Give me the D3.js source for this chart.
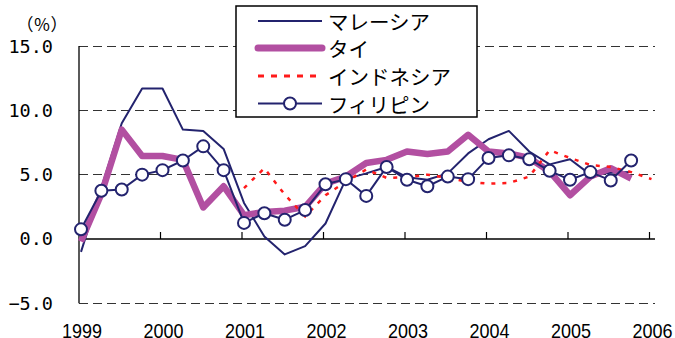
<!DOCTYPE html>
<html>
<head>
<meta charset="utf-8">
<script src="https://cdn.jsdelivr.net/npm/d3@7/dist/d3.min.js"></script>
<style>
  html, body { margin: 0; padding: 0; background: #fff; }
  svg { display: block; }
</style>
</head>
<body>
<svg id="chart" width="675" height="338"></svg>
<script>
// Quarterly categories, 1999 Q1 – 2006 Q1
const quarters = [
  "1999Q1","1999Q2","1999Q3","1999Q4",
  "2000Q1","2000Q2","2000Q3","2000Q4",
  "2001Q1","2001Q2","2001Q3","2001Q4",
  "2002Q1","2002Q2","2002Q3","2002Q4",
  "2003Q1","2003Q2","2003Q3","2003Q4",
  "2004Q1","2004Q2","2004Q3","2004Q4",
  "2005Q1","2005Q2","2005Q3","2005Q4",
  "2006Q1"
];
const yearLabels = ["1999","2000","2001","2002","2003","2004","2005","2006"];
const yTicks = [-5, 0, 5, 10, 15];
const yTickLabels = ["\u22125.0", "0.0", "5.0", "10.0", "15.0"];

// Real GDP growth (%, year on year)
const malaysia = [
  -1.0, 4.0, 9.0, 11.7, 11.7, 8.5, 8.4, 7.0,
  2.8, 0.2, -1.2, -0.55, 1.2, 4.65, 5.1, 5.6,
  4.8, 4.6, 5.1, 6.65, 7.75, 8.4, 6.8, 5.8,
  6.2, 5.0, 5.15, 5.2, null
];
const thailand = [
  -0.2, 3.5, 8.5, 6.45, 6.45, 6.15, 2.45, 4.1,
  1.85, 2.1, 2.2, 2.5, 4.3, 4.85, 5.9, 6.15,
  6.8, 6.6, 6.8, 8.1, 6.8, 6.65, 6.3, 5.25,
  3.4, 4.85, 5.5, 4.7, null
];
const indonesia = [
  null, null, null, null, null, null, null, null,
  3.95, 5.5, 3.45, 1.75, 3.4, 4.45, 5.4, 4.75,
  4.8, 5.0, 4.75, 4.45, 4.3, 4.35, 4.85, 6.9,
  6.3, 5.75, 5.6, 5.2, 4.65
];
const philippines = [
  0.75, 3.75, 3.85, 5.0, 5.35, 6.1, 7.2, 5.35,
  1.25, 2.0, 1.5, 2.25, 4.25, 4.65, 3.35, 5.6,
  4.6, 4.1, 4.85, 4.65, 6.3, 6.5, 6.2, 5.3,
  4.6, 5.2, 4.55, 6.1, null
];

const seriesNames = ["マレーシア", "タイ", "インドネシア", "フィリピン"];

const NAVY = "#23236e";
const MAGENTA = "#b24fa1";
const RED = "#ff1a1a";

const svg = d3.select("#chart");

const plotLeft = 79, plotRight = 655;
const x = d3.scalePoint().domain(quarters).range([81, 651.5]).padding(0);
const y = d3.scaleLinear().domain([-5, 15]).range([303.3, 46]);

// Horizontal dashed gridlines
svg.append("g").selectAll("line")
  .data(yTicks.filter(v => v !== 0))
  .join("line")
  .attr("x1", plotLeft).attr("x2", plotRight)
  .attr("y1", d => y(d)).attr("y2", d => y(d))
  .attr("stroke", "#333").attr("stroke-width", 1)
  .attr("stroke-dasharray", "9,5")
  .attr("shape-rendering", "crispEdges");

// Zero line and vertical axis
svg.append("line")
  .attr("x1", plotLeft).attr("x2", plotRight)
  .attr("y1", y(0)).attr("y2", y(0))
  .attr("stroke", "#000").attr("stroke-width", 1.3);
svg.append("line")
  .attr("x1", plotLeft).attr("x2", plotLeft)
  .attr("y1", y(15)).attr("y2", y(-5))
  .attr("stroke", "#000").attr("stroke-width", 1.3);

// Year tick marks on the zero line
svg.append("g").selectAll("line")
  .data(yearLabels.slice(1))
  .join("line")
  .attr("x1", d => x(d + "Q1") - 2).attr("x2", d => x(d + "Q1") - 2)
  .attr("y1", y(0)).attr("y2", y(0) - 7)
  .attr("stroke", "#000").attr("stroke-width", 1.2);

// Y tick labels
svg.append("g").selectAll("text")
  .data(yTicks)
  .join("text")
  .attr("x", 53).attr("y", d => y(d))
  .attr("text-anchor", "end")
  .attr("dominant-baseline", "central")
  .attr("font-family", "'DejaVu Sans Mono', monospace")
  .attr("font-size", 18.5)
  .attr("fill", "#000")
  .text((d, i) => yTickLabels[i]);

// Unit label
svg.append("text")
  .attr("x", 42).attr("y", 23)
  .attr("text-anchor", "middle")
  .attr("dominant-baseline", "central")
  .attr("font-family", "'Noto Sans CJK JP', sans-serif")
  .attr("font-size", 17)
  .text("（％）");

// X year labels
svg.append("g").selectAll("text")
  .data(yearLabels)
  .join("text")
  .attr("x", d => x(d + "Q1") + 1)
  .attr("y", 337.5)
  .attr("text-anchor", "middle")
  .attr("font-family", "'Liberation Sans Narrow', 'Arial Narrow', 'Liberation Sans', sans-serif")
  .attr("font-size", 21)
  .attr("textLength", 40)
  .attr("lengthAdjust", "spacingAndGlyphs")
  .attr("fill", "#000")
  .text(d => d);

// Series lines
const line = d3.line()
  .defined(d => d.v !== null)
  .x(d => x(d.q))
  .y(d => y(d.v));
const toPts = arr => arr.map((v, i) => ({ q: quarters[i], v }));

svg.append("path")
  .datum(toPts(malaysia))
  .attr("d", line)
  .attr("fill", "none").attr("stroke", NAVY).attr("stroke-width", 2)
  .attr("stroke-linejoin", "round");

svg.append("path")
  .datum(toPts(thailand))
  .attr("d", line)
  .attr("fill", "none").attr("stroke", MAGENTA).attr("stroke-width", 6.5)
  .attr("stroke-linejoin", "round");

svg.append("path")
  .datum(toPts(indonesia))
  .attr("d", line)
  .attr("fill", "none").attr("stroke", RED).attr("stroke-width", 2.5)
  .attr("stroke-dasharray", "4,7");

const phPts = toPts(philippines).filter(d => d.v !== null);
svg.append("path")
  .datum(phPts)
  .attr("d", line)
  .attr("fill", "none").attr("stroke", NAVY).attr("stroke-width", 2)
  .attr("stroke-linejoin", "round");
svg.append("g").selectAll("circle")
  .data(phPts)
  .join("circle")
  .attr("cx", d => x(d.q)).attr("cy", d => y(d.v))
  .attr("r", 6)
  .attr("fill", "#fff").attr("stroke", NAVY).attr("stroke-width", 2);

// Legend
const lg = svg.append("g");
lg.append("rect")
  .attr("x", 236).attr("y", 6).attr("width", 241).attr("height", 111)
  .attr("fill", "#fff").attr("stroke", "#000").attr("stroke-width", 1.5);
const rowY = [21, 48, 76, 103.5];
const styles = [
  { stroke: NAVY, width: 2, dash: null, cap: "butt", marker: false },
  { stroke: MAGENTA, width: 7, dash: null, cap: "round", marker: false },
  { stroke: RED, width: 3, dash: "6,7", cap: "butt", marker: false },
  { stroke: NAVY, width: 2, dash: null, cap: "butt", marker: true }
];
seriesNames.forEach((name, i) => {
  const s = styles[i];
  lg.append("line")
    .attr("x1", 258).attr("x2", 322)
    .attr("y1", rowY[i]).attr("y2", rowY[i])
    .attr("stroke", s.stroke).attr("stroke-width", s.width)
    .attr("stroke-linecap", s.cap)
    .attr("stroke-dasharray", s.dash);
  if (s.marker) {
    lg.append("circle")
      .attr("cx", 290).attr("cy", rowY[i]).attr("r", 6)
      .attr("fill", "#fff").attr("stroke", NAVY).attr("stroke-width", 2);
  }
  lg.append("text")
    .attr("x", 328).attr("y", rowY[i])
    .attr("dominant-baseline", "central")
    .attr("font-family", "'Noto Sans CJK JP', sans-serif")
    .attr("font-size", 20.5)
    .attr("fill", "#000")
    .text(name);
});
</script>
</body>
</html>
